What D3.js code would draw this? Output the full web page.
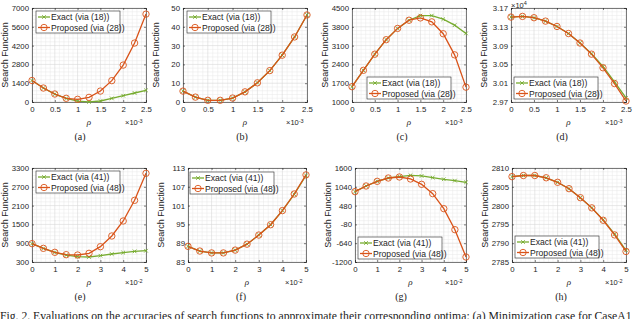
<!DOCTYPE html>
<html>
<head>
<meta charset="utf-8">
<script src="https://cdn.jsdelivr.net/npm/d3@7"></script>
<style>
  body { margin: 0; background: #fff; }
  svg { display: block; }
</style>
</head>
<body>
<svg id="chart" width="640" height="319"></svg>
<script>
// rho values (top row x10^-3, bottom row x10^-2)
const rhoTop = [0, 0.25, 0.5, 0.75, 1, 1.25, 1.5, 1.75, 2, 2.25, 2.5]
const rhoBot = [0, 0.5, 1, 1.5, 2, 2.5, 3, 3.5, 4, 4.5, 5]

const xTicksTop = [0, 0.5, 1, 1.5, 2, 2.5]
const xTicksBot = [0, 1, 2, 3, 4, 5]

// series
const exactA = [1600, 1040, 590, 265, 70, 10, 75, 270, 470, 670, 870]
const propA = [1600, 1040, 595, 275, 200, 345, 815, 1590, 2750, 4390, 6545]
const exactB = [5.8, 2.6, 0.9, 0.9, 2.1, 5.4, 10.2, 16.7, 24.9, 34.6, 46.3]
const propB = [5.8, 2.6, 0.9, 0.9, 2.1, 5.4, 10.2, 16.7, 24.9, 34.6, 46.3]
const exactC = [1570, 2180, 2780, 3320, 3740, 4045, 4217, 4217, 4082, 3861, 3554]
const propC = [1570, 2180, 2780, 3320, 3740, 4045, 4131, 3984, 3542, 2756, 1553]
const exactD = [3.1507, 3.1521, 3.1493, 3.1421, 3.1307, 3.1157, 3.0957, 3.0725, 3.0457, 3.0129, 2.9786]
const propD = [3.1507, 3.1521, 3.1493, 3.1421, 3.1307, 3.1157, 3.0955, 3.0718, 3.0428, 3.0093, 2.9721]
const exactE = [885, 736, 605, 520, 470, 460, 502, 555, 600, 640, 660]
const propE = [885, 736, 609, 534, 523, 577, 789, 1130, 1609, 2268, 3130]
const exactF = [88.0, 86.5, 85.9, 85.9, 86.8, 88.7, 91.6, 94.9, 99.4, 104.6, 110.6]
const propF = [88.0, 86.5, 85.9, 85.9, 86.8, 88.7, 91.6, 94.9, 99.4, 104.7, 110.8]
const exactG = [895, 1064, 1203, 1302, 1345, 1382, 1363, 1313, 1264, 1224, 1174]
const propG = [895, 1064, 1203, 1302, 1332, 1273, 1114, 836, 389, -237, -1051]
const exactH = [2807.7, 2808.0, 2808.0, 2807.4, 2806.2, 2804.5, 2802.1, 2799.4, 2796.2, 2792.4, 2788.1]
const propH = [2807.7, 2808.0, 2808.0, 2807.4, 2806.2, 2804.5, 2802.1, 2799.4, 2796.1, 2792.2, 2787.8]

const yTicksA = [0, 1400, 2800, 4200, 5600, 7000]
const yTicksB = [0, 10, 20, 30, 40, 50]
const yTicksC = [1000, 1700, 2400, 3100, 3800, 4500]
const yTicksD = [2.97, 3.01, 3.05, 3.09, 3.13, 3.17]
const yTicksE = [300, 900, 1500, 2100, 2700, 3300]
const yTicksF = [83, 89, 95, 101, 107, 113]
const yTicksG = [-1200, -640, -80, 480, 1040, 1600]
const yTicksH = [2785, 2790, 2795, 2800, 2805, 2810]

const legendTop = ['Exact (via (18))', 'Proposed (via (28))']
const legendBot = ['Exact (via (41))', 'Proposed (via (48))']

const caption =
  'Fig. 2.  Evaluations on the accuracies of search functions to approximate their corresponding optima: (a) Minimization case for CaseA1'

const green = '#77AC30'
const orange = '#D95319'
const ink = '#262626'

const panels = [
  { id: '(a)', rho: rhoTop, xt: xTicksTop, exp: -3, exact: exactA, prop: propA, yt: yTicksA, leg: legendTop,
    box: [32, 146, 8, 102], lg: [36, 11], cap: 80 },
  { id: '(b)', rho: rhoTop, xt: xTicksTop, exp: -3, exact: exactB, prop: propB, yt: yTicksB, leg: legendTop,
    box: [183, 307, 8, 102], lg: [187, 11], cap: 242 },
  { id: '(c)', rho: rhoTop, xt: xTicksTop, exp: -3, exact: exactC, prop: propC, yt: yTicksC, leg: legendTop,
    box: [352, 466, 8, 102], lg: [367, 77], cap: 402 },
  { id: '(d)', rho: rhoTop, xt: xTicksTop, exp: -3, exact: exactD, prop: propD, yt: yTicksD, leg: legendTop,
    box: [511, 626, 8, 102], lg: [514, 77], cap: 562, yexp: 4 },
  { id: '(e)', rho: rhoBot, xt: xTicksBot, exp: -2, exact: exactE, prop: propE, yt: yTicksE, leg: legendBot,
    box: [32, 146, 168, 262], lg: [36, 171], cap: 80 },
  { id: '(f)', rho: rhoBot, xt: xTicksBot, exp: -2, exact: exactF, prop: propF, yt: yTicksF, leg: legendBot,
    box: [188, 306, 168, 262], lg: [190, 172], cap: 241 },
  { id: '(g)', rho: rhoBot, xt: xTicksBot, exp: -2, exact: exactG, prop: propG, yt: yTicksG, leg: legendBot,
    box: [355, 466, 168, 262], lg: [358, 237], cap: 401 },
  { id: '(h)', rho: rhoBot, xt: xTicksBot, exp: -2, exact: exactH, prop: propH, yt: yTicksH, leg: legendBot,
    box: [512, 626, 168, 262], lg: [515, 236], cap: 561 },
]

const svg = d3.select('#chart')
svg.append('rect').attr('width', 640).attr('height', 319).attr('fill', '#fff')

function minorSteps(ticks, n) {
  let out = []
  for (let i = 0; i < ticks.length - 1; i++) {
    let step = (ticks[i + 1] - ticks[i]) / n
    for (let k = 1; k < n; k++) out.push(ticks[i] + k * step)
  }
  return out
}

function expLabel(g, x, y, exp) {
  let t = g.append('text').attr('x', x).attr('y', y)
    .attr('font-family', 'Liberation Sans, Arial, sans-serif')
    .attr('font-size', 7.5).attr('fill', ink)
  t.append('tspan').text('\u00d710')
  t.append('tspan').attr('dy', -2.5).attr('font-size', 5.5).text(exp)
}

function drawPanel(p) {
  let [l, r, t, b] = p.box
  let g = svg.append('g')
  let x = d3.scaleLinear().domain([p.xt[0], p.xt[p.xt.length - 1]]).range([l, r])
  let y = d3.scaleLinear().domain([p.yt[0], p.yt[p.yt.length - 1]]).range([b, t])

  // minor grid
  let grid = g.append('g')
  grid.selectAll('.vmin').data(minorSteps(p.xt, 5)).enter().append('line')
    .attr('x1', x).attr('x2', x).attr('y1', t).attr('y2', b)
    .attr('stroke', '#e8e8e8').attr('stroke-width', 0.5)
  grid.selectAll('.hmin').data(minorSteps(p.yt, 5)).enter().append('line')
    .attr('y1', y).attr('y2', y).attr('x1', l).attr('x2', r)
    .attr('stroke', '#e8e8e8').attr('stroke-width', 0.5)
  // major grid
  grid.selectAll('.vmaj').data(p.xt).enter().append('line')
    .attr('x1', x).attr('x2', x).attr('y1', t).attr('y2', b)
    .attr('stroke', '#d6d6d6').attr('stroke-width', 0.6)
  grid.selectAll('.hmaj').data(p.yt).enter().append('line')
    .attr('y1', y).attr('y2', y).attr('x1', l).attr('x2', r)
    .attr('stroke', '#d6d6d6').attr('stroke-width', 0.6)

  // axes (box on, ticks pointing in)
  let fmtY = p.yexp ? d3.format('.2f') : (d) => d
  let fmtX = (d) => d
  let axes = [
    g.append('g').attr('transform', `translate(0,${b})`)
      .call(d3.axisBottom(x).tickValues(p.xt).tickSize(-2).tickPadding(4).tickFormat(fmtX)),
    g.append('g').attr('transform', `translate(${l},0)`)
      .call(d3.axisLeft(y).tickValues(p.yt).tickSize(-2).tickPadding(3).tickFormat(fmtY)),
    g.append('g').attr('transform', `translate(0,${t})`)
      .call(d3.axisTop(x).tickValues(p.xt).tickSize(-2).tickFormat('')),
    g.append('g').attr('transform', `translate(${r},0)`)
      .call(d3.axisRight(y).tickValues(p.yt).tickSize(-2).tickFormat('')),
  ]
  for (let a of axes) {
    a.select('.domain').attr('stroke', ink).attr('stroke-width', 0.6)
    a.selectAll('.tick line').attr('stroke', ink).attr('stroke-width', 0.6)
    a.selectAll('.tick text').attr('fill', ink)
      .attr('font-family', 'Liberation Sans, Arial, sans-serif').attr('font-size', 7.8)
  }

  // y label
  g.append('text')
    .attr('transform', `translate(${l - 24},${(t + b) / 2}) rotate(-90)`)
    .attr('text-anchor', 'middle')
    .attr('font-family', 'Liberation Sans, Arial, sans-serif')
    .attr('font-size', 9).attr('fill', ink)
    .text('Search Function')

  // x label
  g.append('text')
    .attr('x', (l + r) / 2).attr('y', b + 23)
    .attr('text-anchor', 'middle')
    .attr('font-family', 'Liberation Serif, Times New Roman, serif')
    .attr('font-style', 'italic')
    .attr('font-size', 9).attr('fill', ink)
    .text('\u03c1')
  expLabel(g, r - 21, b + 23, p.exp)
  if (p.yexp) expLabel(g, l, t - 0.5, p.yexp)

  // series
  let line = d3.line().x((d, i) => x(p.rho[i])).y((d) => y(d))
  let exactG = g.append('g')
  exactG.append('path').datum(p.exact).attr('d', line)
    .attr('fill', 'none').attr('stroke', green).attr('stroke-width', 1.3)
  exactG.selectAll('.xm').data(p.exact).enter().append('path')
    .attr('d', (d, i) => {
      let cx = x(p.rho[i]), cy = y(d), s = 1.8
      return `M${cx - s},${cy - s}L${cx + s},${cy + s}M${cx - s},${cy + s}L${cx + s},${cy - s}`
    })
    .attr('stroke', green).attr('stroke-width', 0.9)

  let propG = g.append('g')
  propG.append('path').datum(p.prop).attr('d', line)
    .attr('fill', 'none').attr('stroke', orange).attr('stroke-width', 1.3)
  propG.selectAll('circle').data(p.prop).enter().append('circle')
    .attr('cx', (d, i) => x(p.rho[i])).attr('cy', y)
    .attr('r', 3.2).attr('fill', 'none')
    .attr('stroke', orange).attr('stroke-width', 0.9)

  // legend
  let [lx, ly] = p.lg
  let leg = g.append('g').attr('transform', `translate(${lx},${ly})`)
  leg.append('rect').attr('width', 84).attr('height', 22)
    .attr('fill', '#fff').attr('stroke', ink).attr('stroke-width', 0.6)
  let rows = [
    { c: green, text: p.leg[0], mark: 'x' },
    { c: orange, text: p.leg[1], mark: 'o' },
  ]
  rows.forEach((row, i) => {
    let cy = 6 + i * 10.5
    leg.append('line').attr('x1', 2).attr('x2', 14).attr('y1', cy).attr('y2', cy)
      .attr('stroke', row.c).attr('stroke-width', 1.3)
    if (row.mark === 'x') {
      let s = 1.8
      leg.append('path')
        .attr('d', `M${8 - s},${cy - s}L${8 + s},${cy + s}M${8 - s},${cy + s}L${8 + s},${cy - s}`)
        .attr('stroke', row.c).attr('stroke-width', 0.9)
    } else {
      leg.append('circle').attr('cx', 8).attr('cy', cy).attr('r', 3.2)
        .attr('fill', 'none').attr('stroke', row.c).attr('stroke-width', 0.9)
    }
    leg.append('text').attr('x', 15).attr('y', cy + 3)
      .attr('font-family', 'Liberation Sans, Arial, sans-serif')
      .attr('font-size', 8.6).attr('fill', ink)
      .text(row.text)
  })

  // subcaption
  g.append('text')
    .attr('x', p.cap).attr('y', b + 38)
    .attr('text-anchor', 'middle')
    .attr('font-family', 'Liberation Serif, Times New Roman, serif')
    .attr('font-size', 10).attr('fill', '#222')
    .text(p.id)
}

panels.forEach(drawPanel)

svg.append('text')
  .attr('x', 0).attr('y', 320)
  .attr('font-family', 'Liberation Serif, Times New Roman, serif')
  .attr('font-size', 11.7).attr('fill', '#222')
  .text(caption)
</script>
</body>
</html>
